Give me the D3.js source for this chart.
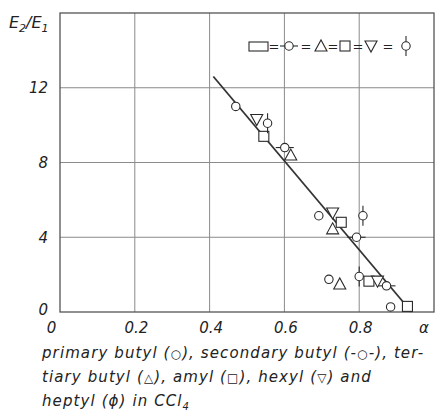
<!DOCTYPE html>
<html><head><meta charset="utf-8">
<script src="https://cdn.jsdelivr.net/npm/d3@7"></script>
<style>
body{margin:0;background:#fff;}
svg text{font-family:"DejaVu Sans",sans-serif;font-style:italic;fill:#222;}
</style></head>
<body><svg id="c" width="443" height="420"></svg>
<script>
// data
const primaryButyl   = [[0.470,11.0],[0.692,5.15],[0.719,1.75],[0.884,0.27]];
const secondaryButyl = [[0.601,8.8],[0.793,4.0],[0.873,1.4]];
const tertiaryButyl  = [[0.617,8.4],[0.729,4.45],[0.748,1.5]];
const amyl           = [[0.545,9.4],[0.752,4.8],[0.826,1.65],[0.929,0.3]];
const hexyl          = [[0.526,10.3],[0.729,5.3],[0.849,1.65]];
const heptyl         = [[0.555,10.1],[0.81,5.15],[0.80,1.9]];
const fitLine        = [[0.41,12.6],[0.94,0]];
const xTicks = [0,0.2,0.4,0.6,0.8];
const xTickLabels = ["0","0.2","0.4","0.6","0.8"];
const yTicks = [0,4,8,12];
const yTickLabels = ["0","4","8","12"];
// caption pieces: [text, isSymbol]
const captionLines = [
  [["primary butyl (",0],["\u25CB",1],["), secondary butyl (-",0],["\u25CB",1],["-), ter-",0]],
  [["tiary butyl (",0],["\u25B3",1],["), amyl (",0],["\u25A1",1],["), hexyl (",0],["\u25BD",1],[") and",0]],
  [["heptyl (",0],["\u03D5",0],[") in CCl",0]]
];

const svg = d3.select("#c");
const L=60, R=434, T=13, B=312;
const x = d3.scaleLinear().domain([0,1]).range([L,R]);
const y = d3.scaleLinear().domain([0,16]).range([B,T]);
const ink = "#2a2a2a";

// grid
const g = svg.append("g");
g.selectAll(".vg").data(xTicks.filter(d=>d>0)).enter().append("line")
  .attr("x1",d=>x(d)).attr("x2",d=>x(d)).attr("y1",T).attr("y2",B)
  .attr("stroke","#8a8a8a").attr("stroke-width",1);
g.selectAll(".hg").data(yTicks.filter(d=>d>0)).enter().append("line")
  .attr("x1",L).attr("x2",R).attr("y1",d=>y(d)).attr("y2",d=>y(d))
  .attr("stroke","#8a8a8a").attr("stroke-width",1);
// frame
svg.append("rect").attr("x",L).attr("y",T).attr("width",R-L).attr("height",B-T)
  .attr("fill","none").attr("stroke","#555").attr("stroke-width",1.3);

// axes (labels only)
const xa = svg.append("g").attr("transform",`translate(0,${B})`)
  .call(d3.axisBottom(x).tickValues(xTicks).tickFormat((d,i)=>xTickLabels[i]).tickSize(0).tickPadding(10));
xa.select(".domain").remove();
xa.selectAll("text").attr("font-size",15).style("font-family","DejaVu Sans").style("font-style","italic").attr("fill","#222")
  .attr("dx",(d)=>d===0?-9:1);
const ya = svg.append("g").attr("transform",`translate(${L},0)`)
  .call(d3.axisLeft(y).tickValues(yTicks).tickFormat((d,i)=>yTickLabels[i]).tickSize(0).tickPadding(12));
ya.select(".domain").remove();
ya.selectAll("text").attr("font-size",15).style("font-family","DejaVu Sans").style("font-style","italic").attr("fill","#222")
  .attr("dy",(d)=>d===0?"0.15em":"0.32em");
svg.append("text").attr("x",x(0.96)).attr("y",B+21).attr("font-size",15).text("\u03B1");

// y label
const yl = svg.append("text").attr("x",9).attr("y",28).attr("font-size",16);
yl.append("tspan").text("E");
yl.append("tspan").attr("font-size",11).attr("dy",4).text("2");
yl.append("tspan").attr("dy",-4).text("/E");
yl.append("tspan").attr("font-size",11).attr("dy",4).text("1");

// fit line
svg.append("path").datum(fitLine)
  .attr("d",d3.line().x(d=>x(d[0])).y(d=>y(d[1])))
  .attr("stroke","#333").attr("stroke-width",1.8).attr("fill","none");

// marker drawers
const sw = 1.1;
function circle(gg,cx,cy){gg.append("circle").attr("cx",cx).attr("cy",cy).attr("r",4.2).attr("fill","#fff").attr("stroke",ink).attr("stroke-width",sw);}
function dashCircle(gg,cx,cy){
  gg.append("line").attr("x1",cx-9).attr("x2",cx-4).attr("y1",cy).attr("y2",cy).attr("stroke",ink).attr("stroke-width",sw);
  gg.append("line").attr("x1",cx+4).attr("x2",cx+9).attr("y1",cy).attr("y2",cy).attr("stroke",ink).attr("stroke-width",sw);
  circle(gg,cx,cy);
}
function triUp(gg,cx,cy){gg.append("path").attr("d",`M${cx-6},${cy+5}L${cx+6},${cy+5}L${cx},${cy-6}Z`).attr("fill","#fff").attr("stroke",ink).attr("stroke-width",sw);}
function triDown(gg,cx,cy){gg.append("path").attr("d",`M${cx-6},${cy-5}L${cx+6},${cy-5}L${cx},${cy+6}Z`).attr("fill","#fff").attr("stroke",ink).attr("stroke-width",sw);}
function square(gg,cx,cy){gg.append("rect").attr("x",cx-5).attr("y",cy-5).attr("width",10).attr("height",10).attr("fill","#fff").attr("stroke",ink).attr("stroke-width",sw);}
function stemCircle(gg,cx,cy){
  gg.append("line").attr("x1",cx).attr("x2",cx).attr("y1",cy-10).attr("y2",cy+10).attr("stroke",ink).attr("stroke-width",sw);
  circle(gg,cx,cy);
}
const series = [[primaryButyl,circle],[secondaryButyl,dashCircle],[tertiaryButyl,triUp],[amyl,square],[hexyl,triDown],[heptyl,stemCircle]];
const mg = svg.append("g");
series.forEach(([data,fn])=>{
  mg.selectAll(null).data(data).enter().append("g").each(function(d){fn(d3.select(this),x(d[0]),y(d[1]));});
});

// legend
const lg = svg.append("g");
const ly = 46;
lg.append("rect").attr("x",249).attr("y",ly-4).attr("width",19).attr("height",9).attr("fill","#fff").attr("stroke",ink).attr("stroke-width",sw);
const eqs=[274,306,333,358,388];
eqs.forEach(ex=>lg.append("text").attr("x",ex).attr("y",ly+4.5).attr("font-size",13).attr("text-anchor","middle").style("font-style","normal").text("="));
dashCircle(lg,289,ly);
triUp(lg,321,ly);
square(lg,345,ly);
triDown(lg,371,ly);
stemCircle(lg,406,ly);

// caption
const cap = svg.append("g");
captionLines.forEach((parts,i)=>{
  const tx = cap.append("text").attr("x",42).attr("y",358+i*24).attr("font-size",15).attr("letter-spacing",1.1);
  parts.forEach(([t,sym])=>{
    const ts = tx.append("tspan").text(t);
    if(sym) ts.attr("font-size",12).style("font-style","normal");
  });
  if(i===2){tx.append("tspan").attr("font-size",10).attr("dy",4).text("4");}
});
</script></body></html>
